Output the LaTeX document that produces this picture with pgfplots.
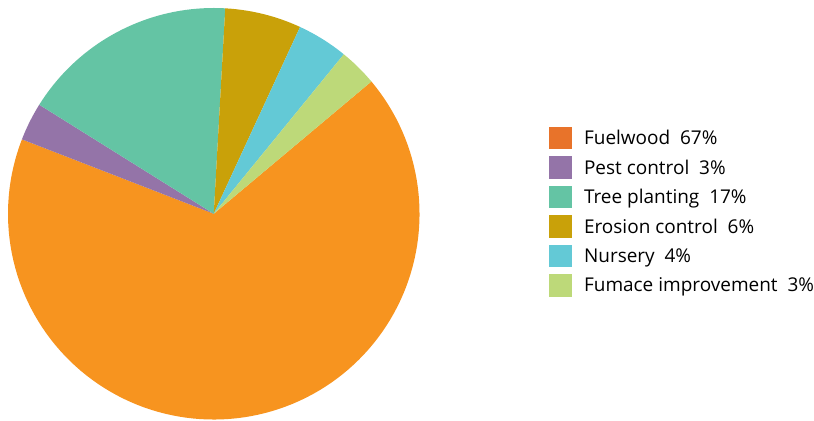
\documentclass[border=0pt]{standalone}
\usepackage{pgfplots}
\pgfplotsset{compat=1.18}
\usepackage{fontspec}
\setmainfont{Open Sans}
\definecolor{cFuel}{HTML}{F7941F}
\definecolor{cFuelL}{HTML}{E8732A}
\definecolor{cPest}{HTML}{9474A8}
\definecolor{cTree}{HTML}{64C4A4}
\definecolor{cEros}{HTML}{C9A109}
\definecolor{cNurs}{HTML}{63C9D6}
\definecolor{cFurn}{HTML}{BDD979}
\begin{document}
\begin{tikzpicture}
% slice shares (percent)
\pgfmathsetmacro{\vA}{67}
\pgfmathsetmacro{\vB}{3}
\pgfmathsetmacro{\vC}{17}
\pgfmathsetmacro{\vD}{6}
\pgfmathsetmacro{\vE}{4}
\pgfmathsetmacro{\vF}{3}
\pgfmathsetmacro{\aA}{40}
\pgfmathsetmacro{\aB}{\aA-3.6*\vA}
\pgfmathsetmacro{\aC}{\aB-3.6*\vB}
\pgfmathsetmacro{\aD}{\aC-3.6*\vC}
\pgfmathsetmacro{\aE}{\aD-3.6*\vD}
\pgfmathsetmacro{\aF}{\aE-3.6*\vE}
\pgfmathsetmacro{\aG}{\aF-3.6*\vF}
\begin{axis}[
  scale only axis,
  axis line style={draw=none},
  xtick=\empty, ytick=\empty,
  width=814pt, height=421pt,
  xmin=0, xmax=814, ymin=0, ymax=421,
  legend image code/.code={\fill[#1, draw=none] (0pt,-11.3pt) rectangle (22.7pt,11.3pt);},
  legend style={at={(axis cs:550,294)}, anchor=north west, draw=none, fill=none,
    inner sep=0pt, outer sep=0pt,
    font=\fontsize{19}{21}\selectfont,
    row sep=6.9pt,
    nodes={inner sep=0pt},
    /tikz/every odd column/.append style={column sep=12pt}},
  legend cell align=left,
]
\addplot[forget plot, fill=cFuel, draw=none, domain=\aB:\aA, samples=120] ({214+206*cos(x)},{207+206*sin(x)}) -- (214,207) -- cycle;
\addplot[forget plot, fill=cPest, draw=none, domain=\aC:\aB, samples=10] ({214+206*cos(x)},{207+206*sin(x)}) -- (214,207) -- cycle;
\addplot[forget plot, fill=cTree, draw=none, domain=\aD:\aC, samples=40] ({214+206*cos(x)},{207+206*sin(x)}) -- (214,207) -- cycle;
\addplot[forget plot, fill=cEros, draw=none, domain=\aE:\aD, samples=15] ({214+206*cos(x)},{207+206*sin(x)}) -- (214,207) -- cycle;
\addplot[forget plot, fill=cNurs, draw=none, domain=\aF:\aE, samples=12] ({214+206*cos(x)},{207+206*sin(x)}) -- (214,207) -- cycle;
\addplot[forget plot, fill=cFurn, draw=none, domain=\aG:\aF, samples=10] ({214+206*cos(x)},{207+206*sin(x)}) -- (214,207) -- cycle;
\addlegendimage{fill=cFuelL}
\addlegendentry{Fuelwood\ \ 67\%}
\addlegendimage{fill=cPest}
\addlegendentry{Pest control\ \ 3\%}
\addlegendimage{fill=cTree}
\addlegendentry{Tree planting\ \ 17\%}
\addlegendimage{fill=cEros}
\addlegendentry{Erosion control\ \ 6\%}
\addlegendimage{fill=cNurs}
\addlegendentry{Nursery\ \ 4\%}
\addlegendimage{fill=cFurn}
\addlegendentry{Fumace improvement\ \ 3\%}
\end{axis}
\end{tikzpicture}
\end{document}
